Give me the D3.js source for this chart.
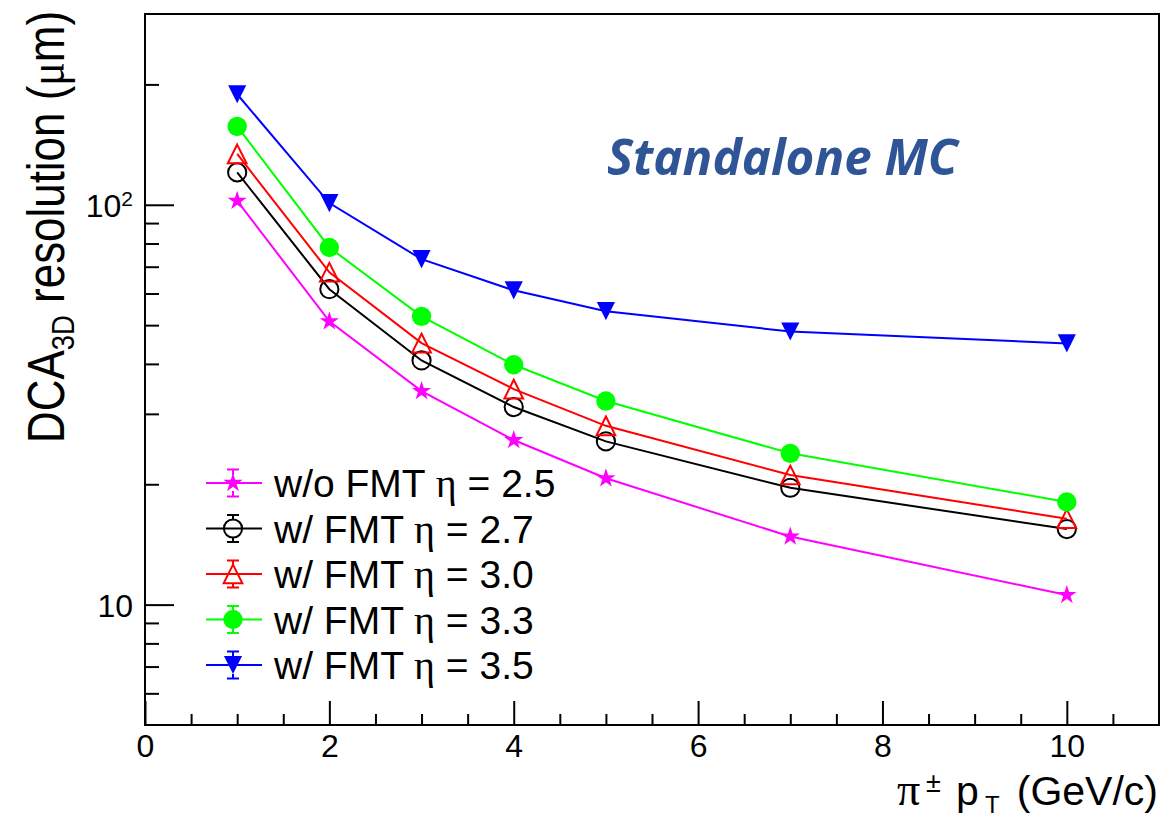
<!DOCTYPE html>
<html>
<head>
<meta charset="utf-8">
<script src="https://cdn.jsdelivr.net/npm/d3@7"></script>
<style>
  body { margin: 0; background: #fff; }
  svg { display: block; font-family: "Liberation Sans", Arial, Helvetica, sans-serif; }
</style>
</head>
<body>
<svg id="chart"></svg>
<script>
'use strict';

// pion pT bins (GeV/c)
var ptBins = [1, 2, 3, 4, 5, 7, 10];

// DCA 3D resolution (um)
var resNoFmt25 = [102.3, 51.1, 34.2, 25.8, 20.7, 14.8, 10.57];
var resFmt27 = [120.5, 61.5, 40.8, 31.2, 25.6, 19.6, 15.45];
var resFmt30 = [134, 67.8, 45.1, 34.6, 28.0, 21.1, 16.4];
var resFmt33 = [157, 78.2, 52.6, 39.8, 32.3, 23.9, 18.06];
var resFmt35 = [189, 101, 73.1, 61.1, 54.2, 48.2, 45.0];

var seriesLabels = ['w/o FMT', 'w/ FMT', 'w/ FMT', 'w/ FMT', 'w/ FMT'];
var etaLabels = ['2.5', '2.7', '3.0', '3.3', '3.5'];

var xMajorTicks = [0, 2, 4, 6, 8, 10];
var xMinorTicks = [0.5, 1, 1.5, 2.5, 3, 3.5, 4.5, 5, 5.5, 6.5, 7, 7.5, 8.5, 9, 9.5, 10.5];
var yMajorTicks = [10, 100];
var yMinorTicks = [6, 7, 8, 9, 20, 30, 40, 50, 60, 70, 80, 90, 200];

var width = 1163,
    height = 823;
var frame = { left: 145, right: 1159, top: 14, bottom: 725 };

// ROOT-like triangles, centred on their bounding box
var triangleUp = {
  draw: function(ctx, size) {
    var h = Math.sqrt(size) / 2;
    ctx.moveTo(0, -h); ctx.lineTo(h, h); ctx.lineTo(-h, h); ctx.closePath();
  }
};
var triangleDown = {
  draw: function(ctx, size) {
    var h = Math.sqrt(size) / 2;
    ctx.moveTo(0, h); ctx.lineTo(h, -h); ctx.lineTo(-h, -h); ctx.closePath();
  }
};

var styles = [
  { color: '#ff00ff', symbol: d3.symbolStar, size: 115, filled: true, r: 8 },
  { color: '#000000', symbol: d3.symbolCircle, size: 260, filled: false, r: 9 },
  { color: '#ff0000', symbol: triangleUp, size: 350, filled: false, r: 9 },
  { color: '#00ff00', symbol: d3.symbolCircle, size: 295, filled: true, r: 9 },
  { color: '#0000ff', symbol: triangleDown, size: 330, filled: true, r: 9 }
];

var series = [resNoFmt25, resFmt27, resFmt30, resFmt33, resFmt35].map((vals, i) => ({
  label: seriesLabels[i],
  eta: etaLabels[i],
  points: ptBins.map((p, j) => [p, vals[j]]),
  style: styles[i]
}));

var x = d3.scaleLinear().domain([0, 11]).range([frame.left, frame.right]);
var y = d3.scaleLog().domain([5, 300]).range([frame.bottom, frame.top]);

var svg = d3.select('#chart')
  .attr('width', width)
  .attr('height', height);

// axes
function styleAxis(g) {
  g.select('.domain').remove();
  g.attr('font-family', null).attr('font-size', 32);
  g.selectAll('.tick line').attr('stroke', '#000').attr('stroke-width', 2);
  g.selectAll('.tick text').attr('fill', '#000');
}

svg.append('g')
  .attr('transform', `translate(0,${frame.bottom})`)
  .call(d3.axisBottom(x).tickValues(xMinorTicks).tickSize(-11).tickFormat(''))
  .call(styleAxis);
svg.append('g')
  .attr('transform', `translate(0,${frame.bottom})`)
  .call(d3.axisBottom(x).tickValues(xMajorTicks).tickSize(-24).tickPadding(9).tickFormat(d3.format('d')))
  .call(styleAxis);

svg.append('g')
  .attr('transform', `translate(${frame.left},0)`)
  .call(d3.axisLeft(y).tickValues(yMinorTicks).tickSize(-14).tickFormat(''))
  .call(styleAxis);
var yAxis = svg.append('g')
  .attr('transform', `translate(${frame.left},0)`)
  .call(d3.axisLeft(y).tickValues(yMajorTicks).tickSize(-29).tickPadding(12).tickFormat(() => '10'))
  .call(styleAxis);
yAxis.selectAll('.tick text').attr('dy', '0.38em');
yAxis.selectAll('.tick').filter(d => d === 100).select('text')
  .append('tspan')
  .attr('font-size', 21)
  .attr('dy', -11)
  .text('2');

// frame
svg.append('rect')
  .attr('x', frame.left)
  .attr('y', frame.top)
  .attr('width', frame.right - frame.left)
  .attr('height', frame.bottom - frame.top)
  .attr('fill', 'none')
  .attr('stroke', '#000')
  .attr('stroke-width', 2);

// graphs
var line = d3.line()
  .x(d => x(d[0]))
  .y(d => y(d[1]));

series.forEach(s => {
  var g = svg.append('g');
  g.append('path')
    .attr('d', line(s.points))
    .attr('fill', 'none')
    .attr('stroke', s.style.color)
    .attr('stroke-width', 2);
  g.selectAll('path.marker')
    .data(s.points)
    .join('path')
    .attr('class', 'marker')
    .attr('transform', d => `translate(${x(d[0])},${y(d[1])})`)
    .attr('d', d3.symbol(s.style.symbol, s.style.size))
    .attr('fill', s.style.filled ? s.style.color : 'none')
    .attr('stroke', s.style.filled ? 'none' : s.style.color)
    .attr('stroke-width', 2);
});

// legend
var legendX = 233,
    legendY = 483,
    legendStep = 45.5;

var legend = svg.append('g').selectAll('g')
  .data(series)
  .join('g')
  .attr('transform', (d, i) => `translate(${legendX},${legendY + i * legendStep})`);

legend.append('line')
  .attr('x1', -27).attr('x2', 29)
  .attr('stroke', d => d.style.color)
  .attr('stroke-width', 2);
legend.append('path')
  .attr('d', d => `M0,${-d.style.r}V-13.5M-6,-13.5H6M0,${d.style.r}V13.5M-6,13.5H6`)
  .attr('fill', 'none')
  .attr('stroke', d => d.style.color)
  .attr('stroke-width', 2);
legend.append('path')
  .attr('d', d => d3.symbol(d.style.symbol, d.style.size)())
  .attr('fill', d => d.style.filled ? d.style.color : 'none')
  .attr('stroke', d => d.style.filled ? 'none' : d.style.color)
  .attr('stroke-width', 2);

var legendText = legend.append('text')
  .attr('x', 41)
  .attr('y', 14)
  .attr('font-size', 39);
legendText.append('tspan').text(d => d.label + ' ');
legendText.append('tspan')
  .attr('font-family', '"Liberation Serif", serif')
  .attr('font-size', 40)
  .text('\u03b7');
legendText.append('tspan').text(d => ' = ' + d.eta);

// label
svg.append('text')
  .attr('x', 607)
  .attr('y', 175)
  .attr('font-family', '"Open Sans", "Liberation Sans", sans-serif')
  .attr('font-style', 'italic')
  .attr('font-weight', 'bold')
  .attr('font-size', 50)
  .attr('fill', '#2f5597')
  .attr('textLength', 351)
  .attr('lengthAdjust', 'spacingAndGlyphs')
  .text('Standalone MC');

// axis titles
var xTitle = svg.append('text')
  .attr('y', 805)
  .attr('font-size', 41);
xTitle.append('tspan')
  .attr('x', 897)
  .attr('font-family', '"Liberation Serif", serif')
  .attr('font-size', 46)
  .text('\u03c0');
xTitle.append('tspan').attr('x', 926).attr('dy', -13).attr('font-size', 27).text('\u00b1');
xTitle.append('tspan').attr('x', 956).attr('dy', 13).text('p');
xTitle.append('tspan').attr('x', 985).attr('dy', 8).attr('font-size', 24).text('T');
svg.append('text')
  .attr('x', 1158)
  .attr('y', 805)
  .attr('text-anchor', 'end')
  .attr('font-size', 41)
  .text('(GeV/c)');

var yTitle = svg.append('text')
  .attr('transform', 'translate(64,0) rotate(-90)')
  .attr('x', -11)
  .attr('text-anchor', 'end')
  .attr('font-size', 51)
  .attr('textLength', 432)
  .attr('lengthAdjust', 'spacingAndGlyphs');
yTitle.append('tspan').text('DCA');
yTitle.append('tspan').attr('dy', 10).attr('font-size', 32).text('3D');
yTitle.append('tspan').attr('dy', -10).text(' resolution (');
yTitle.append('tspan').attr('font-family', '"Liberation Serif", serif').text('\u03bc');
yTitle.append('tspan').text('m)');
</script>
</body>
</html>
